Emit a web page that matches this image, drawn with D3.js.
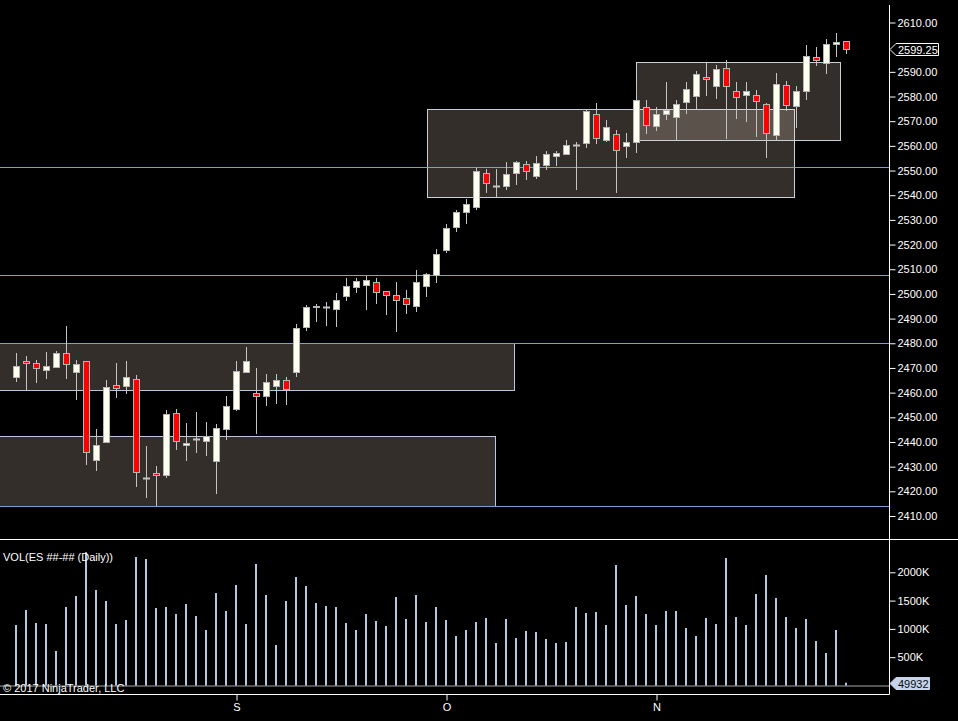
<!DOCTYPE html>
<html><head><meta charset="utf-8">
<script src="https://cdn.jsdelivr.net/npm/d3@7"></script>
<style>
html,body{margin:0;padding:0;background:#000;overflow:hidden}
text{font-family:"Liberation Sans",Arial,sans-serif;font-size:11px}
</style>
</head><body>
<svg id="c" width="958" height="721"></svg>
<script>
// ---- data (daily bars, index 0..83) ----
const opens = [2466.5,2472.7,2472.0,2469.3,2470.5,2475.9,2468.5,2472.7,2432.8,2440.1,
  2462.9,2462.8,2465.4,2425.3,2427.3,2426.5,2451.6,2438.6,2441.1,2440.5,
  2432.4,2445.1,2453.5,2468.5,2459.7,2458.8,2462.5,2465.0,2468.2,2486.7,
  2495.0,2494.6,2494.0,2499.3,2502.9,2503.7,2504.7,2501.1,2499.6,2498.4,
  2495.2,2503.4,2507.8,2518.0,2527.3,2533.1,2535.4,2548.9,2543.9,2543.6,
  2548.9,2552.5,2547.9,2552.4,2555.7,2556.6,2560.5,2561.0,2572.8,2562.5,
  2564.7,2559.8,2561.4,2575.6,2567.9,2572.8,2571.6,2577.6,2580.1,2587.8,
  2584.1,2591.4,2582.1,2580.5,2580.5,2576.8,2564.3,2584.5,2576.0,2582.1,
  2595.9,2593.5,2601.2,2602.4];
const highs = [2476.1,2474.8,2473.2,2476.5,2476.7,2487.0,2473.1,2472.9,2445.2,2465.1,
  2472.0,2472.8,2467.1,2438.4,2430.3,2452.9,2453.4,2447.7,2452.1,2448.1,
  2447.3,2458.6,2472.8,2478.5,2470.0,2467.5,2467.5,2466.3,2487.8,2495.4,
  2495.9,2496.7,2500.4,2506.5,2506.5,2507.4,2506.5,2501.2,2504.8,2501.6,
  2509.7,2508.5,2518.2,2528.2,2533.9,2538.5,2551.0,2550.5,2550.6,2553.5,
  2553.9,2553.7,2555.9,2557.9,2557.9,2562.4,2561.6,2575.0,2577.2,2570.4,
  2566.3,2565.1,2586.0,2578.6,2575.6,2585.9,2578.6,2585.9,2590.2,2593.6,
  2592.6,2594.7,2585.9,2585.9,2582.5,2577.4,2589.5,2586.2,2584.1,2600.9,
  2600.1,2603.3,2605.7,2602.6];
const lows = [2464.7,2461.5,2464.3,2465.9,2470.5,2465.9,2457.5,2431.1,2428.6,2439.8,
  2458.2,2460.0,2422.3,2417.7,2414.3,2425.9,2437.3,2432.7,2435.9,2434.7,
  2419.3,2441.2,2452.9,2468.3,2443.6,2455.0,2455.8,2455.4,2466.9,2485.4,
  2489.0,2487.4,2487.0,2497.5,2500.8,2494.0,2496.3,2492.0,2485.1,2492.4,
  2493.2,2499.3,2504.8,2517.1,2525.6,2528.9,2534.6,2541.3,2539.4,2542.7,
  2544.4,2546.4,2547.1,2550.8,2552.2,2556.6,2542.5,2559.7,2561.3,2562.1,
  2541.3,2555.6,2557.7,2565.4,2566.4,2571.0,2562.4,2573.5,2575.5,2580.8,
  2579.5,2563.3,2571.4,2570.2,2564.1,2555.6,2562.2,2574.7,2567.8,2579.1,
  2592.6,2589.4,2596.6,2597.5];
const closes = [2470.7,2471.9,2470.1,2470.6,2475.9,2471.5,2471.5,2436.1,2438.6,2462.1,
  2462.0,2466.2,2427.9,2425.3,2426.5,2451.2,2440.3,2439.4,2441.1,2442.3,
  2445.7,2454.4,2468.8,2472.7,2458.5,2464.2,2465.0,2461.3,2486.1,2494.7,
  2495.3,2494.6,2497.4,2503.1,2505.1,2505.5,2500.9,2499.7,2497.4,2495.8,
  2504.7,2508.0,2516.1,2526.6,2533.1,2536.3,2550.0,2545.1,2543.9,2548.5,
  2553.5,2549.7,2552.9,2556.6,2557.1,2560.2,2560.5,2574.0,2563.3,2567.5,
  2558.5,2561.4,2578.5,2568.3,2572.8,2574.7,2576.8,2582.9,2589.0,2587.0,
  2591.0,2584.1,2579.7,2582.1,2578.1,2565.1,2584.9,2576.4,2582.1,2596.3,
  2594.7,2601.2,2602.0,2599.25];
const volumes = [1069000,1334000,1104000,1087000,610000,1387000,1581000,2355000,1687000,1493000,
  1087000,1157000,2270000,2235000,1369000,1387000,1263000,1440000,1228000,981000,
  1634000,1316000,1776000,1087000,2147000,1599000,716000,1493000,1917000,1758000,
  1458000,1405000,1387000,1104000,981000,1263000,1140000,1051000,1564000,1175000,
  1599000,1122000,1387000,1157000,875000,981000,1122000,1193000,751000,1175000,
  839000,963000,945000,822000,751000,769000,1387000,1281000,1299000,1069000,
  2129000,1422000,1581000,1263000,1069000,1316000,1316000,1016000,875000,1193000,
  1087000,2253000,1210000,1069000,1617000,1952000,1546000,1210000,1016000,1175000,
  786000,574000,981000,49932];
const priceTicks = [2410,2420,2430,2440,2450,2460,2470,2480,2490,2500,2510,2520,2530,2540,2550,2560,2570,2580,2590,2610];
const volumeTicks = [500000,1000000,1500000,2000000];
const monthLabels = ["S","O","N"];
const monthStartIndex = [22,43,64];
const levelLines = [2551.5,2507.75,2480.0,2414.25];
const zoneStart = [-2,-2,41,62];
const zoneEnd = [49.7,47.9,77.7,82.3];
const zoneTop = [2480.0,2442.3,2574.8,2593.9];
const zoneBottom = [2461.1,2414.25,2539.2,2562.3];
const lastPrice = 2599.25;
const lastVolume = 49932;

// ---- layout ----
const W = 958, H = 721;
const axisX = 889.5;
const priceBottom = 539.5, volBottom = 694.5;
const svg = d3.select("#c");
svg.append("rect").attr("width",W).attr("height",H).attr("fill","#000");

const x = d3.scaleLinear().domain([0, opens.length-1]).range([16.5, 846.5]);
const yP = d3.scaleLinear().domain([2410, 2610]).range([516, 22.5]);
const yV = d3.scaleLinear().domain([0, 2000000]).range([685.5, 572.3]);
const px = v => Math.round(v) + 0.5;

const defs = svg.append("defs");
defs.append("clipPath").attr("id","pclip").append("rect").attr("x",0).attr("y",0).attr("width",axisX).attr("height",priceBottom);

const pg = svg.append("g").attr("clip-path","url(#pclip)");

// zones
pg.selectAll("rect.zone").data(zoneStart.map((s,i)=>i)).join("rect")
  .attr("class","zone")
  .attr("x", i => px(x(zoneStart[i])))
  .attr("y", i => px(yP(zoneTop[i])))
  .attr("width", i => Math.round(x(zoneEnd[i])) - Math.round(x(zoneStart[i])))
  .attr("height", i => Math.round(yP(zoneBottom[i])) - Math.round(yP(zoneTop[i])))
  .attr("fill","rgb(255,230,210)").attr("fill-opacity",0.2)
  .attr("stroke", i => i < 2 ? "#b8c6de" : "#c9cfd8").attr("stroke-width",1);

// level lines
pg.selectAll("line.lvl").data(levelLines).join("line")
  .attr("x1",0).attr("x2",axisX)
  .attr("y1", d => px(yP(d))).attr("y2", d => px(yP(d)))
  .attr("stroke","#7f9ed8").attr("stroke-width",1);

// candles
const idx = d3.range(opens.length);
pg.selectAll("line.wick").data(idx).join("line")
  .attr("x1", i => x(i)).attr("x2", i => x(i))
  .attr("y1", i => Math.round(yP(highs[i]))).attr("y2", i => Math.round(yP(lows[i]))+1)
  .attr("stroke","#c4c4c4").attr("stroke-width",1);

const bodies = idx.filter(i => Math.abs(opens[i]-closes[i]) > 0.05);
const dojis = idx.filter(i => Math.abs(opens[i]-closes[i]) <= 0.05);
pg.selectAll("rect.body").data(bodies).join("rect")
  .attr("x", i => x(i) - 3)
  .attr("y", i => px(yP(Math.max(opens[i],closes[i]))))
  .attr("width", 6)
  .attr("height", i => Math.max(1, Math.round(yP(Math.min(opens[i],closes[i]))) - Math.round(yP(Math.max(opens[i],closes[i])))))
  .attr("fill", i => closes[i] >= opens[i] ? "#fffff0" : "#ff0000")
  .attr("stroke","#b4b4b4").attr("stroke-width",1);
pg.selectAll("line.doji").data(dojis).join("line")
  .attr("x1", i => x(i) - 3.5).attr("x2", i => x(i) + 3.5)
  .attr("y1", i => px(yP(closes[i]))).attr("y2", i => px(yP(closes[i])))
  .attr("stroke","#c4c4c4").attr("stroke-width",2);

// volume
svg.append("line").attr("x1",0).attr("x2",axisX).attr("y1",px(yV(0))-0.5).attr("y2",px(yV(0))-0.5)
  .attr("stroke","#a6a6a6").attr("stroke-width",1);
svg.selectAll("rect.vol").data(idx).join("rect")
  .attr("x", i => x(i) - 1.5).attr("width", 2)
  .attr("y", i => yV(volumes[i])).attr("height", i => yV(0) - yV(volumes[i]))
  .attr("fill","#b4c6e0");

// frame lines
svg.append("line").attr("x1",0).attr("x2",W).attr("y1",priceBottom).attr("y2",priceBottom).attr("stroke","#fff");
svg.append("line").attr("x1",0).attr("x2",axisX).attr("y1",volBottom).attr("y2",volBottom).attr("stroke","#fff");
svg.append("line").attr("x1",axisX).attr("x2",axisX).attr("y1",5).attr("y2",volBottom).attr("stroke","#fff");

// axes
function styleAxis(g){
  g.select(".domain").remove();
  g.selectAll(".tick line").attr("stroke","#fff");
  g.selectAll(".tick text").attr("fill","#fff").style("font-family","'Liberation Sans',Arial,sans-serif").style("font-size","11px");
}
svg.append("g").attr("transform",`translate(${axisX},0)`)
  .call(d3.axisRight(yP).tickValues(priceTicks).tickFormat(d3.format(".2f")).tickSize(6).tickPadding(2))
  .call(styleAxis);
svg.append("g").attr("transform",`translate(${axisX},0)`)
  .call(d3.axisRight(yV).tickValues(volumeTicks).tickFormat(d => (d/1000) + "K").tickSize(6).tickPadding(2))
  .call(styleAxis);
svg.append("g").attr("transform",`translate(0,${volBottom})`)
  .call(d3.axisBottom(x).tickValues(monthStartIndex).tickFormat((d,i) => monthLabels[i]).tickSize(6).tickPadding(3))
  .call(styleAxis);

// last price marker
function marker(yc, w, fill, stroke, txt, txtColor){
  const x0 = axisX + 0.5, x1 = x0 + 6, x2 = x0 + w, h = 6;
  svg.append("path")
    .attr("d", `M${x0},${yc} L${x1},${yc-h} L${x2},${yc-h} L${x2},${yc+h} L${x1},${yc+h} Z`)
    .attr("fill", fill).attr("stroke", stroke).attr("stroke-width",1);
  svg.append("text").attr("x", x1 + 2).attr("y", yc + 4).attr("fill", txtColor).text(txt);
}
marker(Math.round(yP(lastPrice)) + 0.5, 48.5, "#000", "#fff", d3.format(".2f")(lastPrice), "#fff");
marker(Math.round(yV(lastVolume)) + 0.5, 39.5, "#c4d4ea", "#c4d4ea", String(lastVolume), "#0a0a0a");

// texts
svg.append("text").attr("x",3).attr("y",561).attr("fill","#fff").text("VOL(ES ##-## (Daily))");
svg.append("text").attr("x",3).attr("y",692).attr("fill","#fff").text("© 2017 NinjaTrader, LLC");
</script>
</body></html>
